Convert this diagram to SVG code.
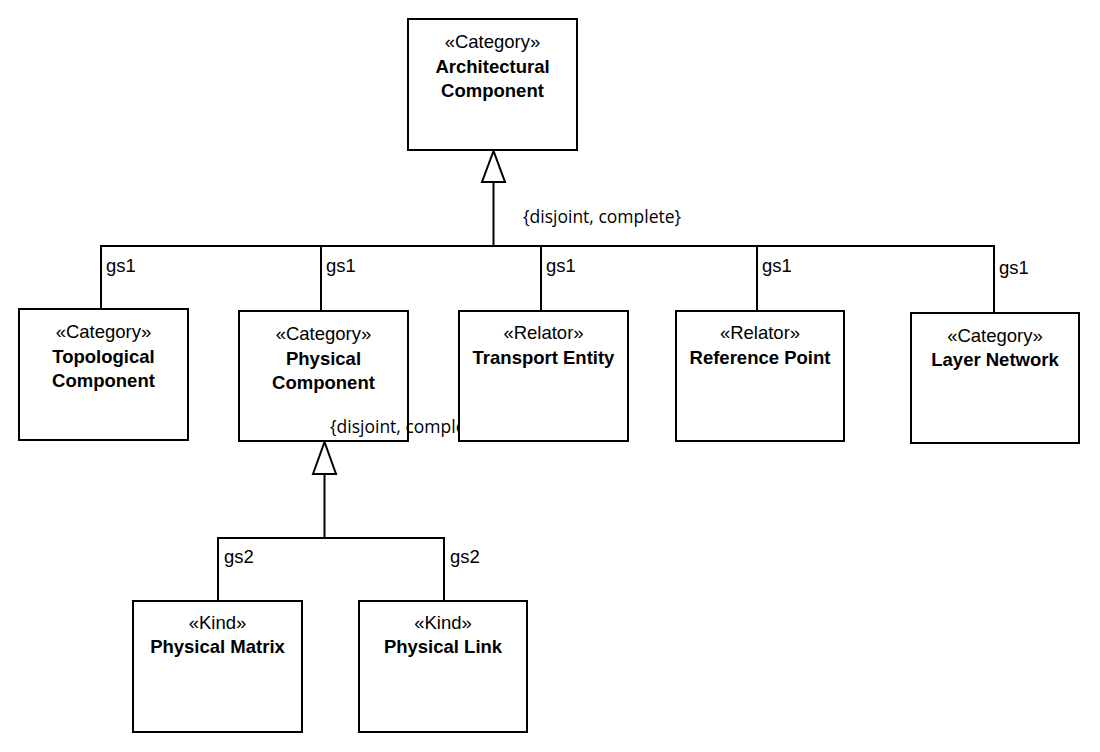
<svg xmlns="http://www.w3.org/2000/svg" width="1100" height="752" viewBox="0 0 1100 752">
<style>
.box{fill:#fff;stroke:#000;stroke-width:2}
.ln{fill:none;stroke:#000;stroke-width:2}
.tri{fill:#fff;stroke:#000;stroke-width:2;stroke-linejoin:miter}
.st{font-family:"Liberation Sans",Arial,sans-serif;font-size:18.5px;text-anchor:middle;fill:#000}
.nm{font-family:"Liberation Sans",Arial,sans-serif;font-size:18.5px;font-weight:bold;text-anchor:middle;fill:#000}
.lb{font-family:"Liberation Sans",Arial,sans-serif;font-size:18.5px;fill:#000}
.cn{font-family:"Open Sans","DejaVu Sans",sans-serif;font-size:17.5px;fill:#000}
</style>
<defs>
<clipPath id="clipPC"><rect x="0" y="400" width="458" height="60"/></clipPath>
</defs>
<g id="connectors">
<polyline class="ln" points="101,309 101,246 994,246 994,313"/>
<line class="ln" x1="321" y1="246" x2="321" y2="311"/>
<line class="ln" x1="541" y1="246" x2="541" y2="311"/>
<line class="ln" x1="757" y1="246" x2="757" y2="311"/>
<line class="ln" x1="493.5" y1="182" x2="493.5" y2="246"/>
<polygon class="tri" points="493.5,151 482,182 505,182"/>
<polyline class="ln" points="218,601 218,538 444,538 444,601"/>
<line class="ln" x1="324.5" y1="474" x2="324.5" y2="538"/>
<polygon class="tri" points="324.5,442 313,474 336,474"/>
<text class="cn" x="523" y="223">{disjoint, complete}</text>
<text class="lb" x="106" y="272">gs1</text>
<text class="lb" x="326" y="272">gs1</text>
<text class="lb" x="546" y="272">gs1</text>
<text class="lb" x="762" y="272">gs1</text>
<text class="lb" x="999" y="274">gs1</text>
<text class="lb" x="224" y="563">gs2</text>
<text class="lb" x="450" y="563">gs2</text>
</g>
<g id="architectural-component">
<rect class="box" x="408" y="19" width="169" height="131"/>
<text class="st" x="492.5" y="48">«Category»</text>
<text class="nm" x="492.5" y="73">Architectural</text>
<text class="nm" x="492.5" y="97">Component</text>
</g>
<g id="topological-component">
<rect class="box" x="19" y="309" width="169" height="131"/>
<text class="st" x="103.5" y="338">«Category»</text>
<text class="nm" x="103.5" y="363">Topological</text>
<text class="nm" x="103.5" y="387">Component</text>
</g>
<g id="physical-component">
<rect class="box" x="239" y="311" width="169" height="130"/>
<text class="st" x="323.5" y="340">«Category»</text>
<text class="nm" x="323.5" y="365">Physical</text>
<text class="nm" x="323.5" y="389">Component</text>
<text class="cn" x="330" y="433" clip-path="url(#clipPC)">{disjoint, complete}</text>
</g>
<g id="transport-entity">
<rect class="box" x="459" y="311" width="169" height="130"/>
<text class="st" x="543.5" y="339">«Relator»</text>
<text class="nm" x="543.5" y="364">Transport Entity</text>
</g>
<g id="reference-point">
<rect class="box" x="676" y="311" width="168" height="130"/>
<text class="st" x="760" y="339">«Relator»</text>
<text class="nm" x="760" y="364">Reference Point</text>
</g>
<g id="layer-network">
<rect class="box" x="911" y="313" width="168" height="130"/>
<text class="st" x="995" y="342">«Category»</text>
<text class="nm" x="995" y="366">Layer Network</text>
</g>
<g id="physical-matrix">
<rect class="box" x="133" y="601" width="169" height="131"/>
<text class="st" x="217.5" y="629">«Kind»</text>
<text class="nm" x="217.5" y="653">Physical Matrix</text>
</g>
<g id="physical-link">
<rect class="box" x="359" y="601" width="168" height="131"/>
<text class="st" x="443" y="629">«Kind»</text>
<text class="nm" x="443" y="653">Physical Link</text>
</g>
</svg>
